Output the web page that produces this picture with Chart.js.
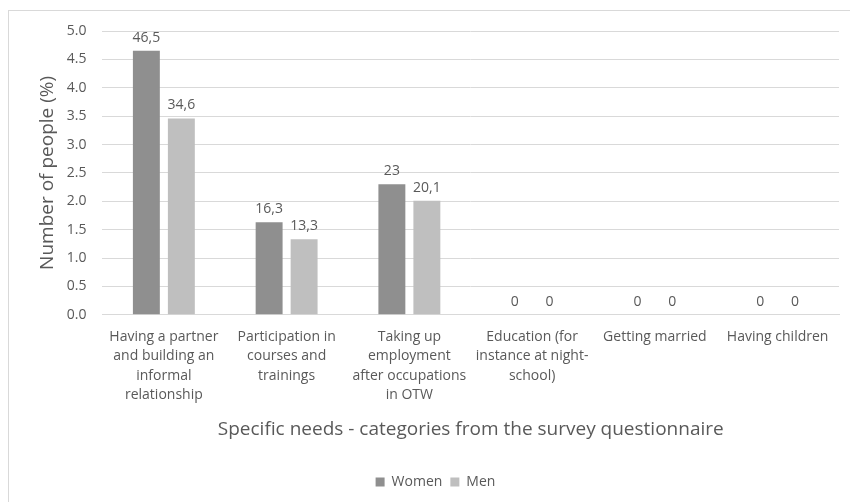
<!DOCTYPE html>
<html>
<head>
<meta charset="utf-8">
<script src="https://cdn.jsdelivr.net/npm/chart.js@4/dist/chart.umd.min.js"></script>
<style>
  html, body { margin: 0; padding: 0; background: #fff; }
  #wrap { position: relative; width: 850px; height: 502px; overflow: hidden; }
  #frame { position: absolute; left: 8px; top: 10px; width: 900px; height: 560px; border: 1px solid #d9d9d9; }
  #chart { position: absolute; left: 0; top: 0; }
</style>
</head>
<body>
<div id="wrap">
  <div id="frame"></div>
  <canvas id="chart" width="850" height="502"></canvas>
</div>
<script>
const CATEGORIES = [
  ["Having a partner", "and building an", "informal", "relationship"],
  ["Participation in", "courses and", "trainings"],
  ["Taking up", "employment", "after occupations", "in OTW"],
  ["Education (for", "instance at night-", "school)"],
  ["Getting married"],
  ["Having children"]
];
const WOMEN = [46.5, 16.3, 23, 0, 0, 0];
const MEN   = [34.6, 13.3, 20.1, 0, 0, 0];
const Y_MAX = 50, Y_STEP = 5;

const TEXT = "#595959";
const FONT = "'Open Sans', Lato, sans-serif";

// value labels above each bar, decimal comma
const barValues = {
  id: "barValues",
  afterDatasetsDraw(chart) {
    const ctx = chart.ctx;
    ctx.save();
    ctx.font = "14px " + FONT;
    ctx.fillStyle = TEXT;
    ctx.textAlign = "center";
    ctx.textBaseline = "bottom";
    chart.data.datasets.forEach((ds, i) => {
      chart.getDatasetMeta(i).data.forEach((el, j) => {
        const txt = String(ds.data[j]).replace(".", ",");
        ctx.fillText(txt, el.x, el.y - 6);
      });
    });
    ctx.restore();
  }
};

new Chart(document.getElementById("chart"), {
  type: "bar",
  data: {
    labels: CATEGORIES,
    datasets: [
      { label: "Women", data: WOMEN, backgroundColor: "#8f8f8f" },
      { label: "Men",   data: MEN,   backgroundColor: "#bfbfbf" }
    ]
  },
  options: {
    responsive: false,
    animation: false,
    devicePixelRatio: 1,
    categoryPercentage: 0.57,
    barPercentage: 0.77,
    layout: { padding: { left: 32, right: 11, top: 31, bottom: 3 } },
    plugins: {
      tooltip: { enabled: false },
      legend: {
        position: "bottom",
        labels: {
          color: TEXT, boxWidth: 9, boxHeight: 9, padding: 8,
          font: { family: FONT, size: 14 }
        }
      }
    },
    scales: {
      x: {
        grid: { display: false, drawTicks: false },
        border: { color: "#d9d9d9" },
        ticks: {
          color: TEXT, maxRotation: 0, autoSkip: false, padding: 12,
          font: { family: FONT, size: 14, lineHeight: 1.4 }
        },
        title: {
          display: true,
          text: "Specific needs - categories from the survey questionnaire",
          color: TEXT, padding: { top: 1, bottom: 26 },
          font: { family: FONT, size: 19 }
        }
      },
      y: {
        min: 0, max: Y_MAX,
        grid: { color: "#d9d9d9", drawTicks: false },
        border: { display: false },
        ticks: {
          stepSize: Y_STEP, color: TEXT, padding: 16,
          font: { family: FONT, size: 14 },
          callback: v => (v / 10).toFixed(1)
        },
        title: {
          display: true, text: "Number of people (%)",
          color: TEXT, padding: { top: 4, bottom: -8 },
          font: { family: FONT, size: 19 }
        }
      }
    }
  },
  plugins: [barValues]
});
</script>
</body>
</html>
